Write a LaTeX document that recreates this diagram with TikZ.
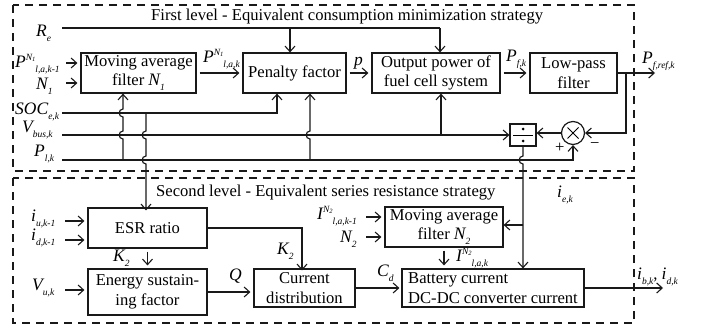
\documentclass[tikz,border=0pt]{standalone}
\usepackage{fontspec}
\setmainfont{Liberation Serif}
\usetikzlibrary{arrows.meta,calc}
% small italic indices for the signal names
\newcommand\subx[1]{\raisebox{-0.7ex}{\fontsize{9.5}{9.5}\selectfont\itshape #1}}
\newcommand\supx[1]{\raisebox{0.9ex}{\fontsize{9.5}{9.5}\selectfont\itshape #1}}
\newcommand\tsub[1]{\raisebox{-0.3ex}{\fontsize{6.5}{6.5}\selectfont\itshape #1}}
\newcommand\var[1]{{\fontsize{17.5}{17.5}\selectfont\itshape #1}}
\begin{document}
\begin{tikzpicture}[x=1pt,y=-1pt,
  font=\fontsize{16.6}{19.5}\selectfont,
  ln/.style={line width=1.15pt,draw=black!90},
  arr/.style={ln,-{Straight Barb[length=5.5pt,width=10pt,line width=1.1pt]}},
  sa/.style={shorten <=3pt,shorten >=3pt},
  blk/.style={draw=black!90,line width=1.2pt,rectangle,inner sep=0pt,align=center},
  frame/.style={draw=black!90,line width=1.2pt,dash pattern=on 8pt off 6pt},
  lbl/.style={anchor=base west,inner sep=0pt},
  jup/.style={insert path={.. controls +(-5,0) and +(-5,0) .. ++(0,-8)}},
  jdn/.style={insert path={.. controls +(-5,0) and +(-5,0) .. ++(0,8)}}]
\useasboundingbox (0,0) rectangle (702,327);

% the two level frames
\draw[frame] (13,5) rectangle (634,171);
\draw[frame] (13,178) rectangle (634,323);
\node[lbl,anchor=west] (t1) at (151,17) {First level - Equivalent consumption minimization strategy};
\node[lbl,anchor=west] (t2) at (156,193) {Second level - Equivalent series resistance strategy};

% first level blocks
\node[blk,minimum width=115pt,minimum height=40pt] (maf1) at (138.5,73) {Moving average\\filter \var{N}\subx{1}};
\node[blk,minimum width=103pt,minimum height=40pt] (pen) at (294.5,73) {Penalty factor};
\node[blk,minimum width=128pt,minimum height=40pt] (out) at (436,73) {Output power of\\fuel cell system};
\node[blk,minimum width=87pt,minimum height=40pt] (lpf) at (573.5,73) {Low-pass\\filter};
\node[blk,minimum width=26pt,minimum height=22pt] (div) at (523,135) {};
\draw[line width=0.9pt] ([xshift=4pt]div.west) -- ([xshift=-4pt]div.east);
\fill (523,129) circle (1.5pt) (523,141) circle (1.5pt);
\node[draw=black!90,line width=1.2pt,circle,minimum size=23pt,inner sep=0pt] (circ) at (573,133) {};
\draw[line width=1pt] ($(circ.center)+(-5.5,-5.5)$) -- ++(11,11) ($(circ.center)+(-5.5,5.5)$) -- ++(11,-11);

% second level blocks
\node[blk,minimum width=119pt,minimum height=40pt] (esr) at (147.5,228) {ESR ratio};
\node[blk,minimum width=119pt,minimum height=46pt] (ene) at (147.5,292) {Energy sustain-\\ing factor};
\node[blk,minimum width=101pt,minimum height=38pt] (cur) at (304.5,288) {Current\\distribution};
\node[blk,minimum width=118pt,minimum height=40pt] (maf2) at (444,227) {Moving average\\filter \var{N}\subx{2}};
\node[blk,minimum width=182pt,minimum height=38pt,align=left] (bat) at (493,288) {Battery current\\DC-DC converter current};

% input labels, first level
\node[lbl] (lre) at (36,36) {\var{R}\subx{e}};
\node[lbl] (lp1) at (15,67) {\var{P}\supx{N\tsub{1}}\subx{l,a,k-1}};
\node[lbl] (ln1) at (36,89) {\var{N}\subx{1}};
\node[lbl] (lsoc) at (15,114) {\var{SOC}\subx{e,k}};
\node[lbl] (lvb) at (22,132) {\var{V}\subx{bus,k}};
\node[lbl] (lpl) at (34,156) {\var{P}\subx{l,k}};
\node[lbl] (lp2) at (203,62) {\var{P}\supx{N\tsub{1}}\subx{l,a,k}};
\node[lbl] (lp) at (354,65) {\var{p}};
\node[lbl] (lpf1) at (506,61) {\var{P}\subx{f,k}};
\node[lbl] (lpref) at (642,63) {\var{P}\subx{f,ref,k}};
\node[lbl] (lplus) at (555,152) {+};
\node[lbl] (lminus) at (590,148) {\textminus};

% input labels, second level
\node[lbl] (liu) at (31,221) {\var{i}\subx{u,k-1}};
\node[lbl] (lid) at (31,240) {\var{i}\subx{d,k-1}};
\node[lbl] (lvu) at (32,290) {\var{V}\subx{u,k}};
\node[lbl] (lk2a) at (113,261) {\var{K}\subx{2}};
\node[lbl] (lk2b) at (277,254) {\var{K}\subx{2}};
\node[lbl] (lq) at (229,280) {\var{Q}};
\node[lbl] (lcd) at (377,276) {\var{C}\subx{d}};
\node[lbl] (li1) at (317,219) {\var{I}\supx{N\tsub{2}}\subx{l,a,k-1}};
\node[lbl] (ln2) at (340,242) {\var{N}\subx{2}};
\node[lbl] (li2) at (456,261) {\var{I}\supx{N\tsub{2}}\subx{l,a,k}};
\node[lbl] (lie) at (557,197) {\var{i}\subx{e,k}};
\node[lbl] (lib) at (637,279) {\var{i}\subx{b,k}, \var{i}\subx{d,k}};

% signal buses
\coordinate (re0) at (62,28);
\coordinate (reA) at (290,28);
\coordinate (reB) at (440,28);
\coordinate (soc0) at (62,113);
\coordinate (socA) at (146,113);
\coordinate (socB) at (277,113);
\coordinate (vb0) at (62,135);
\coordinate (vbA) at (441,135);
\coordinate (pl0) at (62,160);
\coordinate (plA) at (123,160);
\coordinate (plB) at (310,160);
\coordinate (lpB) at (626,73);
\coordinate (pref) at (655,73);
\coordinate (ieB) at (523,225);

\draw[ln] (re0) -- (reB);
\draw[arr] (reA) -- (reA |- pen.north);
\draw[arr] (reB) -- (reB |- out.north);
\draw[arr] (soc0) -- (socB) -- (socB |- pen.south);
\draw[arr] (vb0) -- (div.west);
\draw[arr] (vbA) -- (vbA |- out.south);
\draw[arr] (pl0) -- (circ.south |- pl0) -- (circ.south);
\draw[arr] (plA) -- (123,139) [jup] -- (123,117) [jup] -- (plA |- maf1.south);
\draw[arr] (plB) -- (310,139) [jup] -- (plB |- pen.south);
\draw[arr] (socA) -- (146,131) [jdn] -- (146,156) [jdn] -- ([yshift=-3pt]socA |- esr.north);

% first level chain
\draw[arr,sa] (63,63) coordinate (in1) -- (in1 -| maf1.west);
\draw[arr,sa] (63,83) coordinate (in2) -- (in2 -| maf1.west);
\draw[arr,sa] (maf1.east) -- (pen.west);
\draw[arr,sa] (pen.east) -- (out.west);
\draw[arr,sa] (out.east) -- (lpf.west);
\draw[arr] (lpf.east) -- (pref);
\draw[arr] (lpB) -- (lpB |- circ.east) -- (circ.east);
\draw[arr] (circ.west) -- (circ.west -| div.east);
\draw[arr] (div.south) -- (523,156) [jdn] -- (div.south |- bat.north);
\draw[arr] (ieB) -- (ieB -| maf2.east);

% second level chain
\draw[arr,sa] (62,221) coordinate (in3) -- (in3 -| esr.west);
\draw[arr,sa] (62,240) coordinate (in4) -- (in4 -| esr.west);
\draw[arr,sa] (62,290) coordinate (in5) -- (in5 -| ene.west);
\draw[arr,sa] (esr.south) -- (ene.north);
\coordinate (k2x) at (302,228);
\draw[arr] (esr.east) -- (k2x) -- ([yshift=-2pt]k2x |- cur.north);
\draw[arr,shorten >=3pt] (ene.east) -- (ene.east -| cur.west);
\draw[arr,shorten >=2pt] (cur.east) -- (bat.west);
\draw[arr,sa] (363,217) coordinate (in6) -- (in6 -| maf2.west);
\draw[arr,sa] (363,237) coordinate (in7) -- (in7 -| maf2.west);
\draw[arr,sa] (maf2.south) -- (maf2.south |- bat.north);
\draw[arr] (bat.east) -- (663,288) coordinate (iout);
\end{tikzpicture}
\end{document}
